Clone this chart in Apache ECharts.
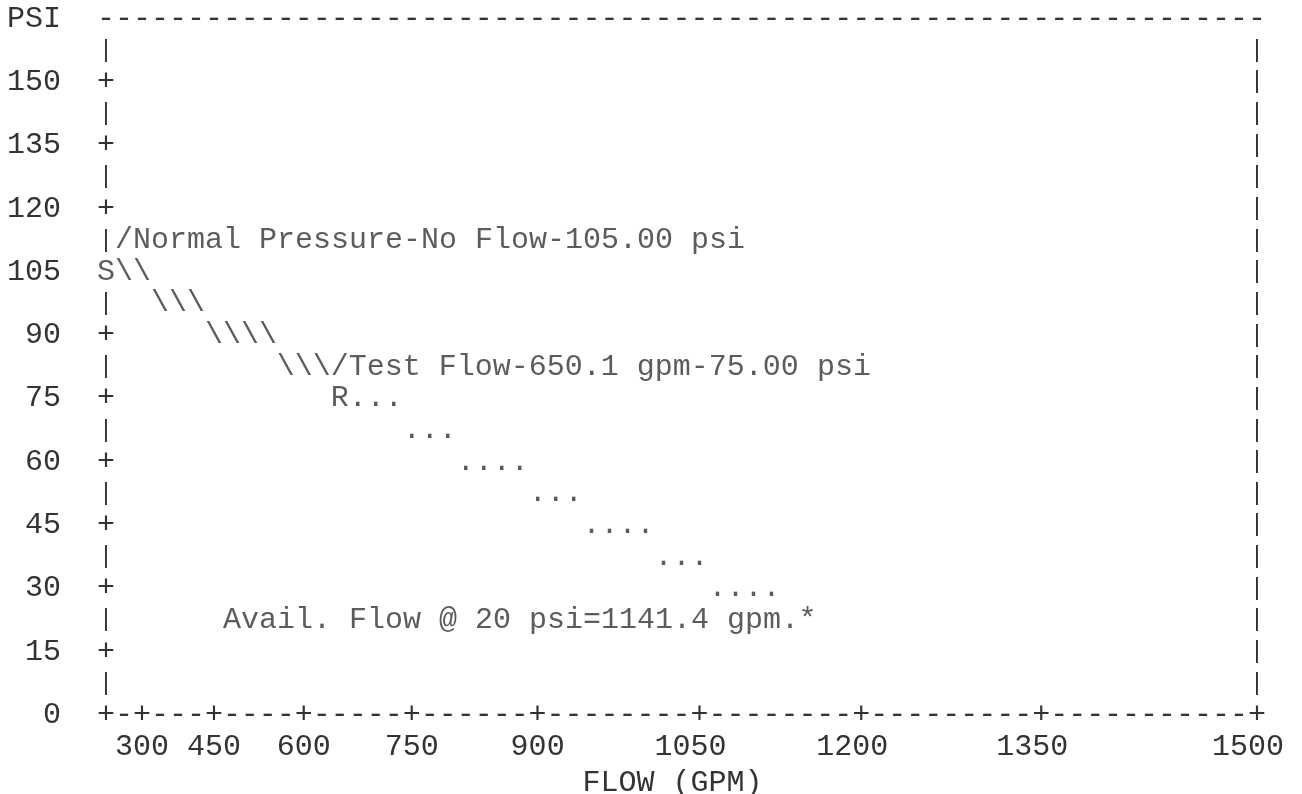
<!DOCTYPE html>
<html>
<head>
<meta charset="utf-8">
<script src="https://cdn.jsdelivr.net/npm/echarts@6/dist/echarts.min.js"></script>
<style>
html,body{margin:0;padding:0;background:#fff;}
#chart{width:1302px;height:794px;}
</style>
</head>
<body>
<div id="chart"></div>
<script>
// ---------------- data ----------------
const psiMax = 165;            // top row of the print ("PSI" row)
const psiStep = 7.5;           // one printed row = 7.5 psi
const psiLabelStep = 15;       // labelled every 15 psi
const gridCols = 64;           // print columns of the N^1.85 flow scale (0 .. 64)
const flowTickLabels = ['300', '450', '600', '750', '900', '1050', '1200', '1350', '1500'];
const flowTickCols   = [2, 6, 11, 17, 24, 33, 42, 52, 64];

const staticPsi = 105.00;      // Normal Pressure - No Flow
const testFlow = 650.1;        // Test Flow (gpm)
const testPsi = 75.00;         // residual pressure
const availPsi = 20;           // available flow evaluated at 20 psi
const availFlow = 1141.4;      // gpm

// plotted points: S (static), R (residual), * (available flow @ 20 psi)
const pointMarks = ['S', 'R', '*'];
const pointRows  = [105, 75, 22.5];
const pointCols  = [0, 13, 39];

// printed trace between / beyond the points, one entry per printed row
const traceRows = [105, 97.5, 90, 82.5, 75, 67.5, 60, 52.5, 45, 37.5, 30];
const traceCols = [1, 3, 6, 10, 14, 17, 20, 24, 27, 31, 34];
const traceText = ['\\\\', '\\\\\\', '\\\\\\\\', '\\\\\\', '...', '...', '....', '...', '....', '...', '....'];

// annotations
const noteText = [
  '/Normal Pressure-No Flow-' + staticPsi.toFixed(2) + ' psi',
  '/Test Flow-' + testFlow + ' gpm-' + testPsi.toFixed(2) + ' psi',
  'Avail. Flow @ ' + availPsi + ' psi=' + availFlow + ' gpm.'
];
const noteRows = [112.5, 82.5, 22.5];
const noteCols = [1, 13, 7];

// ---------------- styling ----------------
const MONO = "'Courier New', 'Liberation Mono', monospace";
const INK = '#333333';
const FS = 30;
const ROW = 31.65;
const HALF_COL = 9;

const cats = [];
for (let i = 0; i <= gridCols; i++) cats.push(i);

const marks = [];
pointMarks.forEach((m, i) => marks.push({ name: m, value: [pointCols[i], pointRows[i]] }));
traceText.forEach((t, i) => marks.push({ name: t, value: [traceCols[i], traceRows[i]] }));
noteText.forEach((t, i) => marks.push({ name: t, value: [noteCols[i], noteRows[i]] }));

const near = (a, b) => Math.abs(a - b) < 1e-6;
const isMult = (v, s) => Math.abs(v / s - Math.round(v / s)) < 1e-6;

const chart = echarts.init(document.getElementById('chart'), null, { renderer: 'canvas' });
chart.setOption({
  animation: false,
  backgroundColor: '#ffffff',
  grid: { left: 106, right: 45, top: 18.7, bottom: 79, containLabel: false, outerBoundsMode: 'none' },
  textStyle: { fontFamily: MONO },
  xAxis: [
    {
      type: 'category', data: cats, position: 'bottom', boundaryGap: false,
      axisLine: { show: false }, axisTick: { show: false }, splitLine: { show: false },
      axisLabel: {
        interval: 0, margin: -ROW / 2, verticalAlign: 'top', lineHeight: ROW,
        fontFamily: MONO, fontSize: FS, color: INK,
        formatter: (v) => {
          const col = Number(v);
          if (col === 0) return '+';
          const k = flowTickCols.indexOf(col);
          if (k < 0) return '-';
          const lab = flowTickLabels[k];
          return '+\n' + lab + (lab.length % 2 === 0 ? ' ' : '');
        }
      },
      name: 'FLOW (GPM) ', nameLocation: 'middle', nameGap: 47,
      nameTextStyle: { fontFamily: MONO, fontSize: FS, color: INK, lineHeight: ROW }
    },
    {
      type: 'category', data: cats, position: 'top', boundaryGap: false,
      axisLine: { show: false }, axisTick: { show: false }, splitLine: { show: false },
      axisLabel: {
        interval: 0, margin: 0, verticalAlign: 'middle',
        fontFamily: MONO, fontSize: FS, color: INK,
        formatter: () => '-'
      }
    }
  ],
  yAxis: [
    {
      type: 'value', min: 0, max: psiMax, interval: psiStep, position: 'left',
      axisLine: { show: false }, axisTick: { show: false }, splitLine: { show: false },
      axisLabel: {
        margin: -HALF_COL, fontFamily: MONO, fontSize: FS, color: INK,
        rich: { b: { fontFamily: MONO, fontSize: 24, color: INK, padding: [0, 1.8, 0, 0] } },
        formatter: v => {
          if (near(v, psiMax)) return 'PSI   ';
          if (isMult(v, psiLabelStep)) {
            const taken = near(v, staticPsi) || near(v, 0);
            return String(Math.round(v)) + (taken ? '   ' : '  +');
          }
          return '{b||}';
        }
      }
    },
    {
      type: 'value', min: 0, max: psiMax, interval: psiStep, position: 'right',
      axisLine: { show: false }, axisTick: { show: false }, splitLine: { show: false },
      axisLabel: {
        margin: 0, align: 'center', fontFamily: MONO, fontSize: 24, color: INK,
        formatter: v => (v > 1e-6 && v < psiMax - 1e-6) ? '|' : ''
      }
    }
  ],
  series: [
    {
      type: 'scatter', xAxisIndex: 0, yAxisIndex: 0, silent: true,
      symbol: 'circle', symbolSize: 1, itemStyle: { color: 'rgba(0,0,0,0)' },
      label: {
        show: true, position: 'inside', align: 'left', verticalAlign: 'middle',
        offset: [-HALF_COL, 0], fontFamily: MONO, fontSize: FS, color: INK,
        formatter: p => p.name
      },
      data: marks
    }
  ]
});
</script>
</body>
</html>
